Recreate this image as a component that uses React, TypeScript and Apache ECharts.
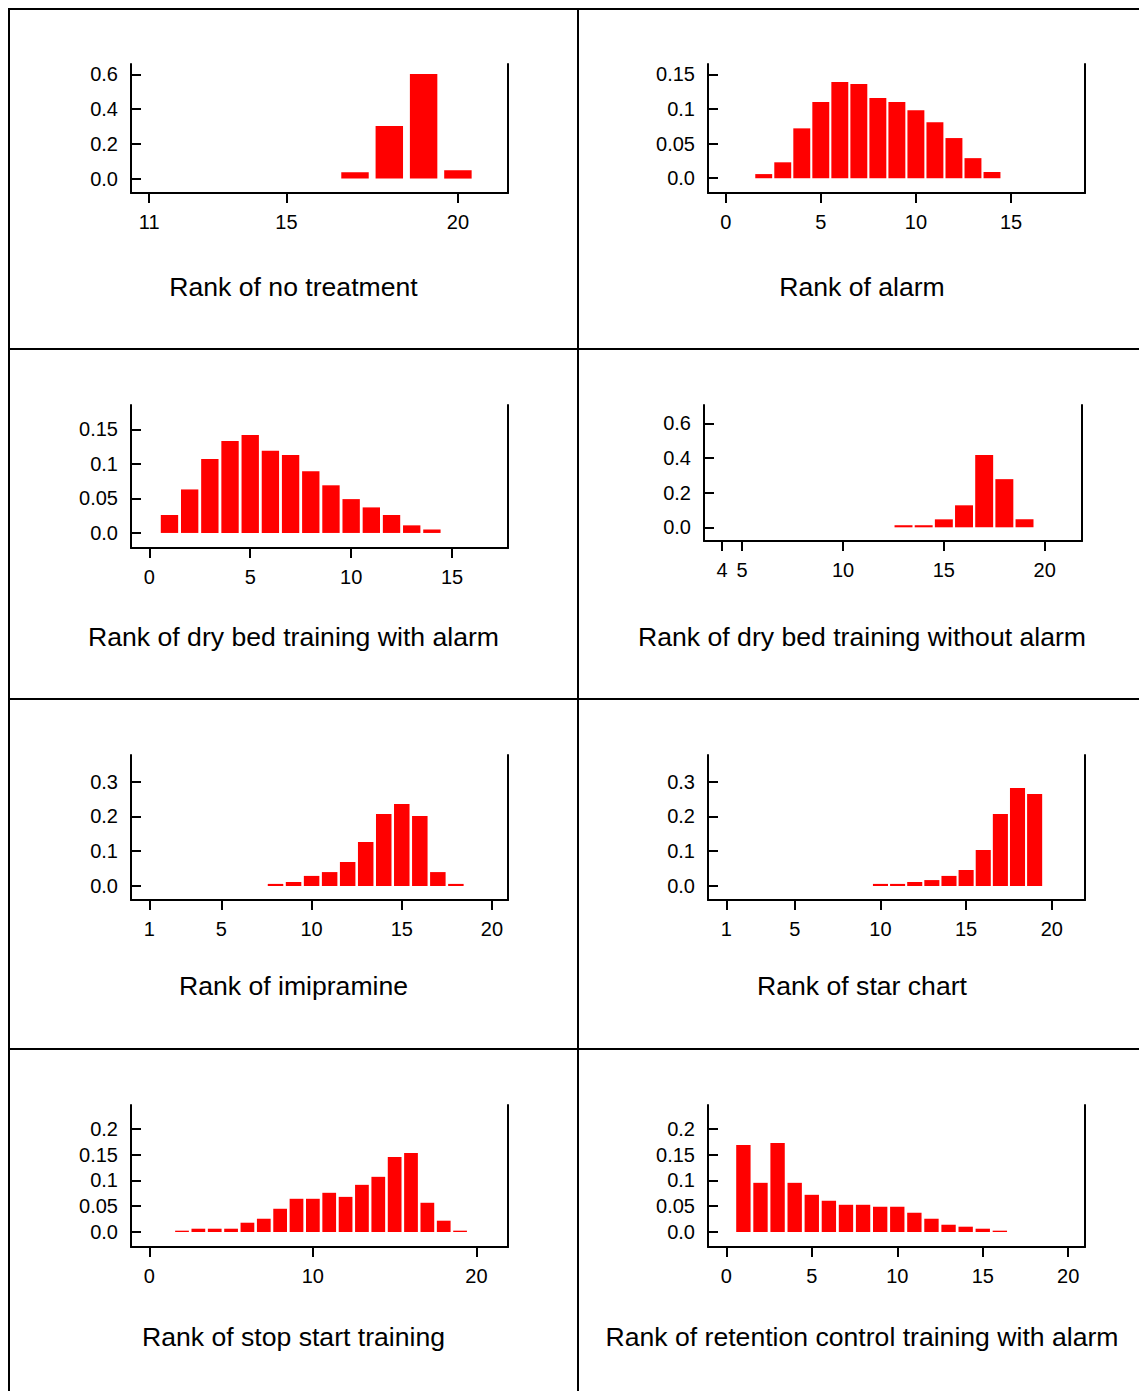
import React, { useEffect, useRef } from "react";
import * as echarts from "echarts";

// ---------- data ----------
const titles = [
  "Rank of no treatment",
  "Rank of alarm",
  "Rank of dry bed training with alarm",
  "Rank of dry bed training without alarm",
  "Rank of imipramine",
  "Rank of star chart",
  "Rank of stop start training",
  "Rank of retention control training with alarm",
];

// rank of the first bar in each panel
const firstRank = [17, 2, 1, 13, 8, 10, 2, 1];

const noTreatment = [0.036, 0.302, 0.602, 0.048];
const alarm = [0.006, 0.023, 0.072, 0.11, 0.139, 0.136, 0.116, 0.11, 0.098, 0.081, 0.058, 0.029, 0.009];
const dryBedWithAlarm = [0.026, 0.063, 0.107, 0.133, 0.142, 0.119, 0.113, 0.0895, 0.069, 0.049, 0.037, 0.026, 0.011, 0.005];
const dryBedWithoutAlarm = [0.012, 0.012, 0.046, 0.127, 0.417, 0.278, 0.046];
const imipramine = [0.006, 0.0115, 0.029, 0.04, 0.069, 0.1265, 0.207, 0.236, 0.201, 0.04, 0.006];
const starChart = [0.006, 0.006, 0.0115, 0.017, 0.029, 0.046, 0.1035, 0.207, 0.282, 0.2645];
const stopStart = [0.0026, 0.0064, 0.0064, 0.0064, 0.018, 0.0257, 0.045, 0.0643, 0.0643, 0.0759, 0.068, 0.0913, 0.1068, 0.145, 0.153, 0.0566, 0.0219, 0.0026];
const retention = [0.1685, 0.0952, 0.1723, 0.0952, 0.072, 0.0605, 0.0527, 0.0527, 0.0489, 0.0489, 0.0373, 0.0257, 0.0141, 0.0103, 0.0064, 0.0026];

const panelValues = [noTreatment, alarm, dryBedWithAlarm, dryBedWithoutAlarm, imipramine, starChart, stopStart, retention];

const xTicks = [
  [11, 15, 20],
  [0, 5, 10, 15],
  [0, 5, 10, 15],
  [4, 5, 10, 15, 20],
  [1, 5, 10, 15, 20],
  [1, 5, 10, 15, 20],
  [0, 10, 20],
  [0, 5, 10, 15, 20],
];
const yTicks = [
  [0, 0.2, 0.4, 0.6],
  [0, 0.05, 0.1, 0.15],
  [0, 0.05, 0.1, 0.15],
  [0, 0.2, 0.4, 0.6],
  [0, 0.1, 0.2, 0.3],
  [0, 0.1, 0.2, 0.3],
  [0, 0.05, 0.1, 0.15, 0.2],
  [0, 0.05, 0.1, 0.15, 0.2],
];

// ---------- layout ----------
// grid rect: [left, top, width, height]
const gridRects = [
  [131, 64, 377, 129],
  [708, 64, 377, 129],
  [131, 405, 377, 143],
  [704, 405, 378, 136],
  [131, 755, 377, 145],
  [708, 755, 377, 145],
  [131, 1105, 377, 142],
  [708, 1105, 377, 142],
];
const xRanges = [
  [10.47, 21.46],
  [-0.93, 18.89],
  [-0.906, 17.77],
  [3.108, 21.85],
  [-0.014, 20.89],
  [-0.068, 21.94],
  [-1.118, 21.93],
  [-1.07, 20.98],
];
const yRanges = [
  [-0.083, 0.6595],
  [-0.0213, 0.1649],
  [-0.0218, 0.1853],
  [-0.079, 0.706],
  [-0.0403, 0.3768],
  [-0.0403, 0.3768],
  [-0.029, 0.2458],
  [-0.029, 0.2458],
];
const barFrac = [0.8, 0.89, 0.86, 0.89, 0.86, 0.88, 0.84, 0.84];
const titleX = [293.5, 862];
const titleY = [287, 637, 986, 1337];

const FONT = "'Liberation Sans', Arial, Helvetica, sans-serif";
const BAR_COLOR = "#ff0000";

function yFmt(v: number) {
  return v === 0 ? "0.0" : String(v);
}

export default function App() {
  const ref = useRef<HTMLDivElement>(null);

  useEffect(() => {
    if (!ref.current) return;
    const chart = echarts.init(ref.current, undefined, { renderer: "svg" });

    const grid: any[] = [];
    const xAxis: any[] = [];
    const yAxis: any[] = [];
    const series: any[] = [];
    const graphic: any[] = [];

    panelValues.forEach((vals, i) => {
      const [l, t, w, h] = gridRects[i];
      grid.push({ left: l, top: t, width: w, height: h, containLabel: false });
      xAxis.push({
        type: "value",
        gridIndex: i,
        min: xRanges[i][0],
        max: xRanges[i][1],
        axisLine: { show: true, onZero: false, lineStyle: { color: "#000", width: 2 } },
        axisTick: { show: true, inside: false, length: 10, customValues: xTicks[i], lineStyle: { color: "#000", width: 2 } },
        axisLabel: {
          show: true,
          customValues: xTicks[i],
          margin: 19,
          color: "#000",
          fontFamily: FONT,
          fontSize: 20,
          formatter: (v: number) => String(v),
        },
        splitLine: { show: false },
      });
      yAxis.push({
        type: "value",
        gridIndex: i,
        position: "left",
        min: yRanges[i][0],
        max: yRanges[i][1],
        axisLine: { show: true, onZero: false, lineStyle: { color: "#000", width: 2 } },
        axisTick: { show: true, inside: true, length: 10, customValues: yTicks[i], lineStyle: { color: "#000", width: 2 } },
        axisLabel: {
          show: true,
          customValues: yTicks[i],
          margin: 13,
          padding: [5, 0, 0, 0],
          color: "#000",
          fontFamily: FONT,
          fontSize: 20,
          formatter: yFmt,
        },
        splitLine: { show: false },
      });
      yAxis.push({
        type: "value",
        gridIndex: i,
        position: "right",
        min: yRanges[i][0],
        max: yRanges[i][1],
        axisLine: { show: true, onZero: false, lineStyle: { color: "#000", width: 2 } },
        axisTick: { show: false },
        axisLabel: { show: false },
        splitLine: { show: false },
      });
      const frac = barFrac[i];
      series.push({
        type: "custom",
        xAxisIndex: i,
        yAxisIndex: i * 2,
        data: vals.map((v, k) => [firstRank[i] + k, v]),
        encode: { x: 0, y: 1 },
        renderItem: (params: any, api: any) => {
          const x = api.value(0);
          const y = api.value(1);
          const p0 = api.coord([x - frac / 2, y]);
          const p1 = api.coord([x + frac / 2, 0]);
          return {
            type: "rect",
            shape: { x: p0[0], y: p0[1], width: p1[0] - p0[0], height: p1[1] - p0[1] },
            style: { fill: BAR_COLOR },
          };
        },
      });
      graphic.push({
        type: "text",
        x: titleX[i % 2],
        y: titleY[Math.floor(i / 2)],
        style: {
          text: titles[i],
          fill: "#000",
          font: `26.6px ${FONT}`,
          textAlign: "center",
          textVerticalAlign: "middle",
        },
      });
    });

    // panel frame lines
    const frameStroke = { stroke: "#000", lineWidth: 2 };
    [9, 578].forEach((x) =>
      graphic.push({ type: "line", shape: { x1: x, y1: 8, x2: x, y2: 1391 }, style: frameStroke })
    );
    [9, 349, 699, 1049].forEach((y) =>
      graphic.push({ type: "line", shape: { x1: 8, y1: y, x2: 1139, y2: y }, style: frameStroke })
    );

    chart.setOption({
      animation: false,
      backgroundColor: "#fff",
      grid,
      xAxis,
      yAxis,
      series,
      graphic,
    });

    return () => chart.dispose();
  }, []);

  return (
    <div
      ref={ref}
      style={{ position: "absolute", left: 0, top: 0, width: 1139, height: 1391 }}
    />
  );
}
